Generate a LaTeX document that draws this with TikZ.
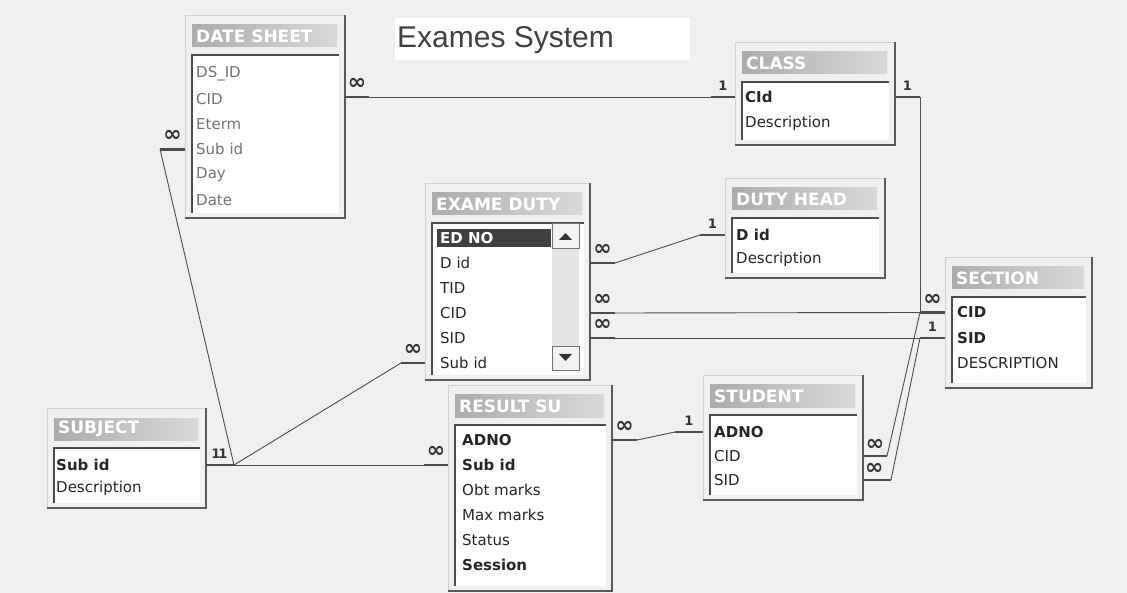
\documentclass[tikz,border=0pt]{standalone}
\usepackage{fontspec}
\setmainfont{DejaVu Sans}
\newfontfamily\headfont{Liberation Sans}
\usetikzlibrary{calc}

\begin{document}
\begin{tikzpicture}[x=1pt,y=-1pt,
  field/.style={anchor=west, inner sep=0pt, font=\fontsize{15}{15}\selectfont, text=black!85},
  ttl/.style={anchor=west, inner sep=0pt, font=\fontsize{17}{17}\selectfont\bfseries, text=white},
  card/.style={inner sep=0pt, font=\fontsize{13}{13}\selectfont\bfseries, text=black!80},
  many/.style={inner sep=0pt, font=\fontsize{22}{22}\selectfont\bfseries, text=black!80},
  link/.style={black!70, line width=0.9pt},
  stub/.style={black!70, line width=2.8pt},
  darkedge/.style={black!65, line width=1.3pt},
  lightedge/.style={gray!35, line width=0.8pt},
  sunken/.style={black!70, line width=1.3pt},
  btn/.style={draw=black!55, fill=gray!10, line width=0.8pt}]

\fill[gray!12] (0,0) rectangle (1127,593);
\useasboundingbox (0,0) rectangle (1127,593);

% title
\fill[white] (395,18) rectangle (690,60);
\node[anchor=west, inner sep=0pt, text=black!75, font=\headfont\fontsize{30}{30}\selectfont] (title) at (397,40) {Exames System};

% table windows
\foreach \nm/\xa/\ya/\xb/\yb/\ttl in {ds/185/15/345/218/DATE SHEET, cl/735/42/895/145/CLASS,
    ed/425/183/590/380/EXAME DUTY, dh/725/178/885/278/DUTY HEAD, se/945/257/1092/388/SECTION,
    rs/448/385/612/591/RESULT SU, st/703/375/863/500/STUDENT, sb/47/408/206/508/SUBJECT}{
  \fill[white] (\xa+7,\ya+40) rectangle (\xb-6,\yb-5);
  \draw[lightedge] (\xa,\yb) -- (\xa,\ya) -- (\xb,\ya);
  \draw[darkedge] (\xa,\yb) -- (\xb,\yb) -- (\xb,\ya);
  \shade[left color=gray!65, right color=gray!30] (\xa+7,\ya+10) rectangle (\xb-8,\ya+32);
  \node[ttl] at (\xa+11,\ya+21) {\ttl};
  \draw[sunken] (\xa+7,\yb-5) -- (\xa+7,\ya+40) -- (\xb-6,\ya+40);
  \coordinate (\nm-w) at (\xa,0);
  \coordinate (\nm-e) at (\xb,0);
}

% scroll bar and selected row
\fill[gray!20] (552,223) rectangle (579,370);
\draw[btn] (552,223) rectangle (579,248);
\fill[black!80] (559,240) -- (572,240) -- (565.5,233) -- cycle;
\draw[btn] (552,346) rectangle (579,370);
\fill[black!80] (559,354) -- (572,354) -- (565.5,361) -- cycle;
\fill[black!75] (437,229) rectangle (551,247);

% fields
\foreach \f [count=\i] in {DS\_ID,CID,Eterm,Sub id,Day,Date}
  \node[field, text=black!55] (ds\i) at (196,48+25.3*\i) {\f};
\foreach \f [count=\i] in {\textbf{CId},Description}
  \node[field] (cl\i) at (745,71+26*\i) {\f};
\foreach \f [count=\i] in {\textcolor{white}{\textbf{ED NO}},D id,TID,CID,SID,Sub id}
  \node[field] (ed\i) at (440,213+25*\i) {\f};
\foreach \f [count=\i] in {\textbf{D id},Description}
  \node[field] (dh\i) at (736,211+24*\i) {\f};
\foreach \f [count=\i] in {\textbf{CID},\textbf{SID},DESCRIPTION}
  \node[field] (se\i) at (957,287+25.5*\i) {\f};
\foreach \f [count=\i] in {\textbf{ADNO},\textbf{Sub id},Obt marks,Max marks,Status,\textbf{Session}}
  \node[field] (rs\i) at (462,415+25*\i) {\f};
\foreach \f [count=\i] in {\textbf{ADNO},CID,SID}
  \node[field] (st\i) at (714,408+24*\i) {\f};
\foreach \f [count=\i] in {\textbf{Sub id},Description}
  \node[field] (sb\i) at (56,442+23*\i) {\f};

% DATE SHEET -- CLASS
\draw[stub] (ds-e |- cl1) -- ++(24,0) coordinate (dsr) node[many, midway, above=6pt] {∞};
\draw[stub] (cl-w |- cl1) -- ++(-24,0) coordinate (cll) node[card, midway, above=5pt] {1};
\draw[link] (dsr) -- (cll);

% CLASS -- SECTION
\draw[stub] (cl-e |- cl1) -- ++(25,0) coordinate (clr) node[card, midway, above=5pt] {1};
\draw[stub] (se-w |- se1) -- ++(-25,0) coordinate (sel) node[many, midway, above=6pt] {∞};
\draw[link] (clr) -- (clr |- sel);

% EXAME DUTY -- DUTY HEAD
\draw[stub] (ed-e |- ed2) -- ++(25,0) coordinate (edr2) node[many, midway, above=6pt] {∞};
\draw[stub] (dh-w |- dh1) -- ++(-25,0) coordinate (dhl) node[card, midway, above=5pt] {1};
\draw[link] (edr2) -- (dhl);

% EXAME DUTY -- SECTION
\draw[stub] (ed-e |- ed4) -- ++(25,0) coordinate (edr4) node[many, midway, above=6pt] {∞};
\draw[link] (edr4) -- (sel);
\draw[stub] (ed-e |- ed5) -- ++(25,0) coordinate (edr5) node[many, midway, above=6pt] {∞};
\draw[stub] (se-w |- se2) -- ++(-25,0) coordinate (sel2) node[card, midway, above=5pt] {1};
\draw[link] (edr5) -- (sel2);

% SUBJECT links
\draw[stub] (sb-e |- sb1) -- ++(28,0) coordinate (sbr)
  node[card, pos=0.35, above=5pt] {1} node[card, pos=0.6, above=5pt] {1};
\draw[stub] (ed-w |- ed6) -- ++(-24,0) coordinate (edl6) node[many, midway, above=6pt] {∞};
\draw[link] (edl6) -- (sbr);
\draw[stub] (rs-w |- rs2) -- ++(-24,0) coordinate (rsl2) node[many, midway, above=6pt] {∞};
\draw[link] (sbr) -- (rsl2);
\draw[stub] (ds-w |- ds4) -- ++(-25,0) coordinate (dsl4) node[many, midway, above=6pt] {∞};
\draw[link] (dsl4) -- (sbr);

% RESULT -- STUDENT
\draw[stub] (rs-e |- rs1) -- ++(25,0) coordinate (rsr1) node[many, midway, above=6pt] {∞};
\draw[stub] (st-w |- st1) -- ++(-28,0) coordinate (stl1) node[card, midway, above=5pt] {1};
\draw[link] (rsr1) -- (stl1);

% STUDENT -- SECTION
\draw[stub] (st-e |- st2) -- ++(24,0) coordinate (str2) node[many, midway, above=4pt] {∞};
\draw[stub] (st-e |- st3) -- ++(28,0) coordinate (str3) node[many, pos=0.4, above=4pt] {∞};
\draw[link] (str2) -- (sel);
\draw[link] (str3) -- (sel2);
\end{tikzpicture}
\end{document}
